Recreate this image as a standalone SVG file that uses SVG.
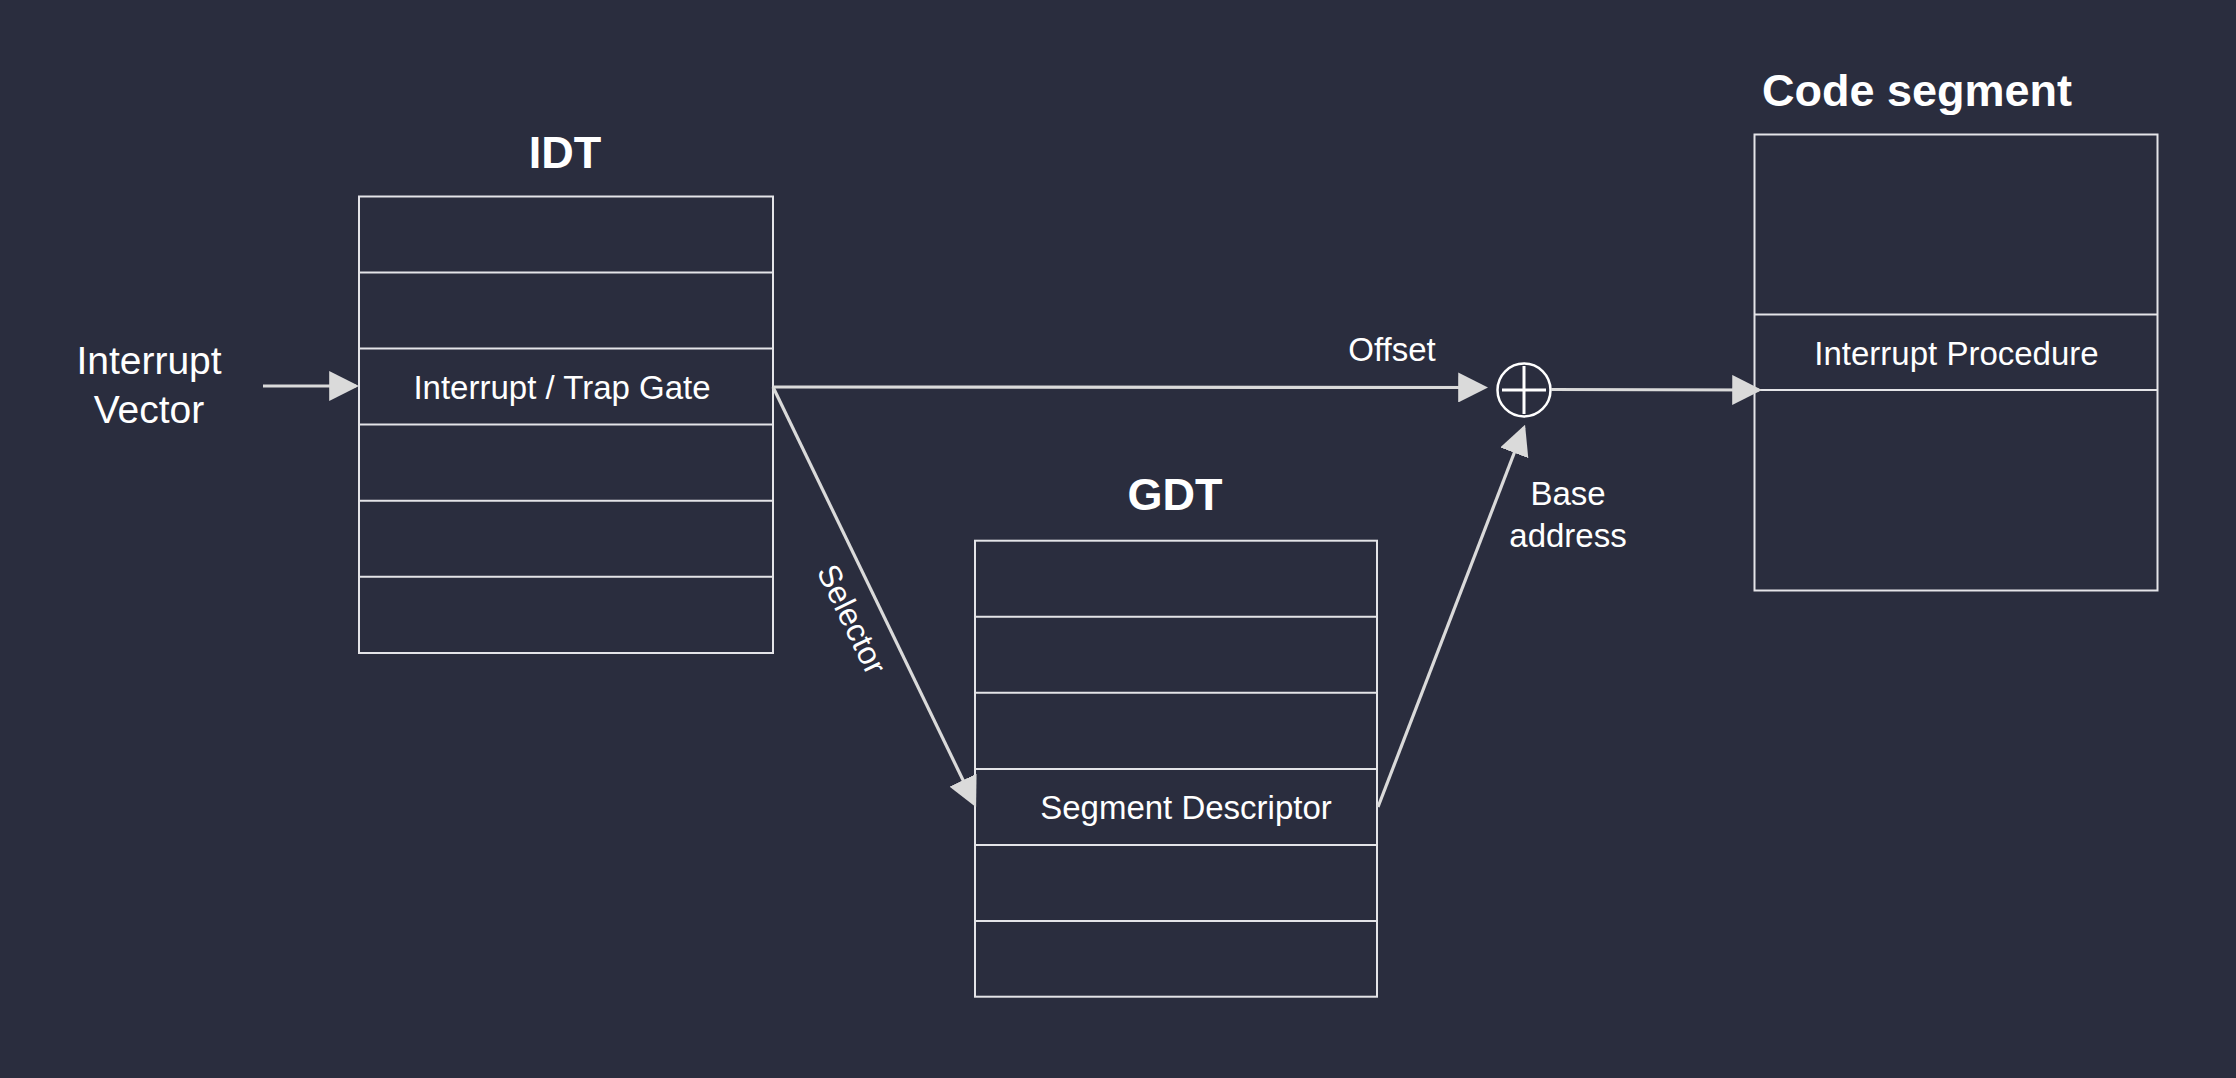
<svg xmlns="http://www.w3.org/2000/svg" width="2236" height="1078" viewBox="0 0 2236 1078">
<style>
.bg{fill:#2a2d3e}
.box{fill:none;stroke:#e4e4e8;stroke-width:2}
.div{stroke:#e4e4e8;stroke-width:2}
.t{font-family:"Liberation Sans",Arial,sans-serif;fill:#ffffff}
.title{font-size:45px;font-weight:bold}
.cell{font-size:33px}
.lbl{font-size:33px}
.conn{stroke:#dadada;stroke-width:3.2;fill:none}
</style>
<defs>
<marker id="ah" markerUnits="userSpaceOnUse" markerWidth="30" markerHeight="30" viewBox="0 0 28 28" refX="25" refY="14" orient="auto">
<path d="M0,0 L28,14 L0,28 z" fill="#dadada"/>
</marker>
</defs>
<rect class="bg" x="0" y="0" width="2236" height="1078"/>

<g id="interrupt-vector">
<text class="t" x="149" y="374" font-size="39" text-anchor="middle">Interrupt</text>
<text class="t" x="149" y="423" font-size="39" text-anchor="middle">Vector</text>
</g>

<g id="idt">
<text class="t title" x="565" y="168" text-anchor="middle">IDT</text>
<rect class="box" x="359" y="196.5" width="414" height="456.5"/>
<line class="div" x1="359" y1="272.5" x2="773" y2="272.5"/>
<line class="div" x1="359" y1="348.6" x2="773" y2="348.6"/>
<line class="div" x1="359" y1="424.6" x2="773" y2="424.6"/>
<line class="div" x1="359" y1="500.7" x2="773" y2="500.7"/>
<line class="div" x1="359" y1="576.8" x2="773" y2="576.8"/>
<text class="t cell" x="562" y="399" text-anchor="middle">Interrupt / Trap Gate</text>
</g>

<g id="gdt">
<text class="t title" x="1175" y="510" text-anchor="middle">GDT</text>
<rect class="box" x="975" y="540.7" width="402" height="456"/>
<line class="div" x1="975" y1="616.7" x2="1377" y2="616.7"/>
<line class="div" x1="975" y1="692.7" x2="1377" y2="692.7"/>
<line class="div" x1="975" y1="769" x2="1377" y2="769"/>
<line class="div" x1="975" y1="845" x2="1377" y2="845"/>
<line class="div" x1="975" y1="921" x2="1377" y2="921"/>
<text class="t cell" x="1186" y="819" text-anchor="middle">Segment Descriptor</text>
</g>

<g id="code-segment">
<text class="t title" x="1762" y="106">Code segment</text>
<rect class="box" x="1754.5" y="134.5" width="403" height="456"/>
<line class="div" x1="1754.5" y1="314.5" x2="2157.5" y2="314.5"/>
<line class="div" x1="1754.5" y1="390" x2="2157.5" y2="390"/>
<text class="t cell" x="1956.5" y="365" text-anchor="middle">Interrupt Procedure</text>
</g>

<g id="adder">
<circle cx="1524" cy="390" r="26.5" fill="none" stroke="#ffffff" stroke-width="2.5"/>
<line x1="1502" y1="390" x2="1546" y2="390" stroke="#ffffff" stroke-width="3"/>
<line x1="1524" y1="366" x2="1524" y2="414" stroke="#ffffff" stroke-width="3"/>
</g>

<g id="connectors">
<line class="conn" x1="263" y1="386" x2="356" y2="386" marker-end="url(#ah)"/>
<line class="conn" x1="773" y1="387" x2="1485" y2="387.5" marker-end="url(#ah)"/>
<line class="conn" x1="773" y1="387" x2="974.7" y2="804.3" marker-end="url(#ah)"/>
<line class="conn" x1="1378" y1="807" x2="1523.9" y2="427.8" marker-end="url(#ah)"/>
<line class="conn" x1="1551" y1="389.5" x2="1759" y2="390" marker-end="url(#ah)"/>
<text class="t lbl" x="1392" y="361" text-anchor="middle">Offset</text>
<text class="t lbl" x="1568" y="505" text-anchor="middle">Base</text>
<text class="t lbl" x="1568" y="547" text-anchor="middle">address</text>
<text class="t" font-size="32" text-anchor="middle" transform="translate(842,624) rotate(64)">Selector</text>
</g>
</svg>
